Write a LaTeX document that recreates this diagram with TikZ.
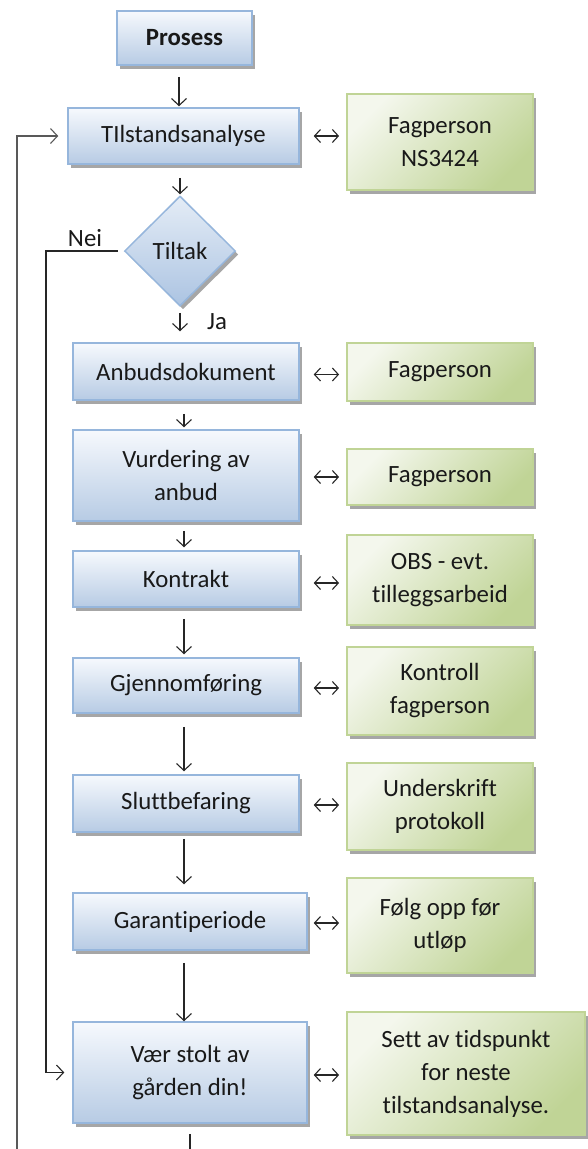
\documentclass[tikz,border=0pt]{standalone}
\usepackage{fontspec}
\setmainfont{Carlito}[Ligatures={NoCommon}]
\usetikzlibrary{arrows.meta,shapes.geometric,shadows}
\definecolor{bluetop}{RGB}{246,249,253}
\definecolor{bluebot}{RGB}{183,203,228}
\definecolor{blueline}{RGB}{150,182,220}
\definecolor{diatop}{RGB}{228,236,246}
\definecolor{diabot}{RGB}{172,196,226}
\definecolor{greentop}{RGB}{244,247,237}
\definecolor{greenbot}{RGB}{192,212,150}
\definecolor{greenline}{RGB}{192,212,150}
\definecolor{shadowgray}{RGB}{150,150,150}
\begin{document}
\begin{tikzpicture}[x=1pt,y=-1pt,
  every node/.style={font=\fontsize{24.8}{33}\selectfont, text=black!90},
  shad/.style={drop shadow={shadow xshift=3pt, shadow yshift=-3.5pt, fill=shadowgray, opacity=0.85}},
  bbox/.style={draw=blueline, line width=1.5pt, top color=bluetop, bottom color=bluebot,
    inner sep=0pt, align=center, shad},
  gbox/.style={draw=greenline, line width=1.8pt, top color=greentop, bottom color=greenbot,
    shading angle=45, inner sep=0pt, align=center, shad},
  dbox/.style={diamond, draw=blueline, line width=1.5pt, top color=diatop, bottom color=diabot,
    minimum width=111, minimum height=110, inner sep=0pt, shad},
  tipv/.tip={Straight Barb[length=7pt,width=15pt,line width=1.1pt]},
  tiph/.tip={Straight Barb[length=6pt,width=13pt,line width=1.1pt]},
  flow/.style={draw=black!85, line width=1.1pt, -tipv},
  plainline/.style={draw=black!85, line width=1.1pt},
  backline/.style={draw=black!65, line width=1.8pt, -tipv},
  both/.style={draw=black!85, line width=1.1pt, tiph-tiph, shorten >=7pt},
]
\useasboundingbox (0,0) rectangle (587,1149);

% process column
\node[bbox, font=\fontsize{24.8}{33}\selectfont\bfseries, minimum width=135, minimum height=54] (prosess) at (184.5,38) {Prosess};
\node[bbox, minimum width=231, minimum height=56] (tilst) at (183.5,136) {TIlstandsanalyse};
\node[dbox] (tiltak) at (180,251) {Tiltak};
\node[bbox, minimum width=226, minimum height=57] (anbud) at (186,371.5) {Anbudsdokument};
\node[bbox, minimum width=226, minimum height=91] (vurd) at (186,475.5) {Vurdering av\\anbud};
\node[bbox, minimum width=226, minimum height=56] (kontrakt) at (186,579) {Kontrakt};
\node[bbox, minimum width=226, minimum height=55] (gjenn) at (186,685.5) {Gjennomføring};
\node[bbox, minimum width=226, minimum height=57] (slutt) at (186,803.5) {Sluttbefaring};
\node[bbox, minimum width=234, minimum height=57] (garanti) at (190,921.5) {Garantiperiode};
\node[bbox, minimum width=234, minimum height=101] (vaer) at (190,1072.5) {Vær stolt av\\gården din!};

% green column
\node[gbox, minimum width=186, minimum height=96] (fag1) at (440,142) {Fagperson\\NS3424};
\node[gbox, minimum width=186, minimum height=58] (fag2) at (440,372) {Fagperson};
\node[gbox, minimum width=186, minimum height=56] (fag3) at (440,477) {Fagperson};
\node[gbox, minimum width=186, minimum height=90] (obs) at (440,580) {OBS - evt.\\tilleggsarbeid};
\node[gbox, minimum width=186, minimum height=88] (kontroll) at (440,691) {Kontroll\\fagperson};
\node[gbox, minimum width=186, minimum height=87] (under) at (440,806.5) {Underskrift\\protokoll};
\node[gbox, minimum width=186, minimum height=95] (folg) at (440,925.5) {Følg opp før\\utløp};
\node[gbox, minimum width=238, minimum height=123] (sett) at (466,1073.5) {Sett av tidspunkt\\for neste\\tilstandsanalyse.};

% labels
\node (nei) at (85,238) {Nei};
\node (ja) at (217,322) {Ja};

% vertical flow
\draw[flow, shorten <=11pt, shorten >=1pt] ([xshift=-5.5pt]prosess.south) -- ([xshift=-5.5pt]prosess.south |- tilst.north);
\draw[flow, shorten <=13pt, shorten >=1pt] (tiltak.north |- tilst.south) -- (tiltak.north);
\draw[flow, shorten <=6pt, shorten >=11pt] (tiltak.south) -- (tiltak.south |- anbud.north);
\draw[flow, shorten <=13pt, shorten >=2pt] ([xshift=-2pt]anbud.south) -- ([xshift=-2pt]vurd.north);
\draw[flow, shorten <=9pt, shorten >=3pt] ([xshift=-2pt]vurd.south) -- ([xshift=-2pt]kontrakt.north);
\draw[flow, shorten <=11pt, shorten >=3pt] ([xshift=-2pt]kontrakt.south) -- ([xshift=-2pt]gjenn.north);
\draw[flow, shorten <=13pt, shorten >=3pt] ([xshift=-2pt]gjenn.south) -- ([xshift=-2pt]slutt.north);
\draw[flow, shorten <=6pt, shorten >=8pt] ([xshift=-2pt]slutt.south) -- ([xshift=-2pt]slutt.south |- garanti.north);
\draw[flow, shorten <=12pt, shorten >=0pt] ([xshift=-6pt]garanti.south) -- ([xshift=-6pt]vaer.north);
\coordinate (vaerout) at (190,1149);
\draw[plainline, shorten <=10pt] (vaer.south) -- (vaerout);

% Nei branch
\coordinate (neiturn) at (46,251);
\draw[flow, shorten <=6pt, shorten >=8pt] (tiltak.west) -- (neiturn) |- (vaer.west);

% loop back
\coordinate (loopbot) at (17,1149);
\draw[backline, shorten >=9pt] (loopbot) |- (tilst.west);

% two-way links
\draw[both, shorten <=14pt] (tilst.east) -- (tilst.east -| fag1.west);
\draw[both, shorten <=14pt] ([yshift=-3pt]anbud.east) -- ([yshift=-3pt]anbud.east -| fag2.west);
\draw[both, shorten <=14pt] ([yshift=-1.5pt]vurd.east) -- ([yshift=-1.5pt]vurd.east -| fag3.west);
\draw[both, shorten <=14pt] ([yshift=-4pt]kontrakt.east) -- ([yshift=-4pt]kontrakt.east -| obs.west);
\draw[both, shorten <=14pt] ([yshift=-2.5pt]gjenn.east) -- ([yshift=-2.5pt]gjenn.east -| kontroll.west);
\draw[both, shorten <=14pt] ([yshift=-1.5pt]slutt.east) -- ([yshift=-1.5pt]slutt.east -| under.west);
\draw[both, shorten <=6pt] ([yshift=-1.5pt]garanti.east) -- ([yshift=-1.5pt]garanti.east -| folg.west);
\draw[both, shorten <=6pt] ([yshift=-2.5pt]vaer.east) -- ([yshift=-2.5pt]vaer.east -| sett.west);
\end{tikzpicture}
\end{document}
